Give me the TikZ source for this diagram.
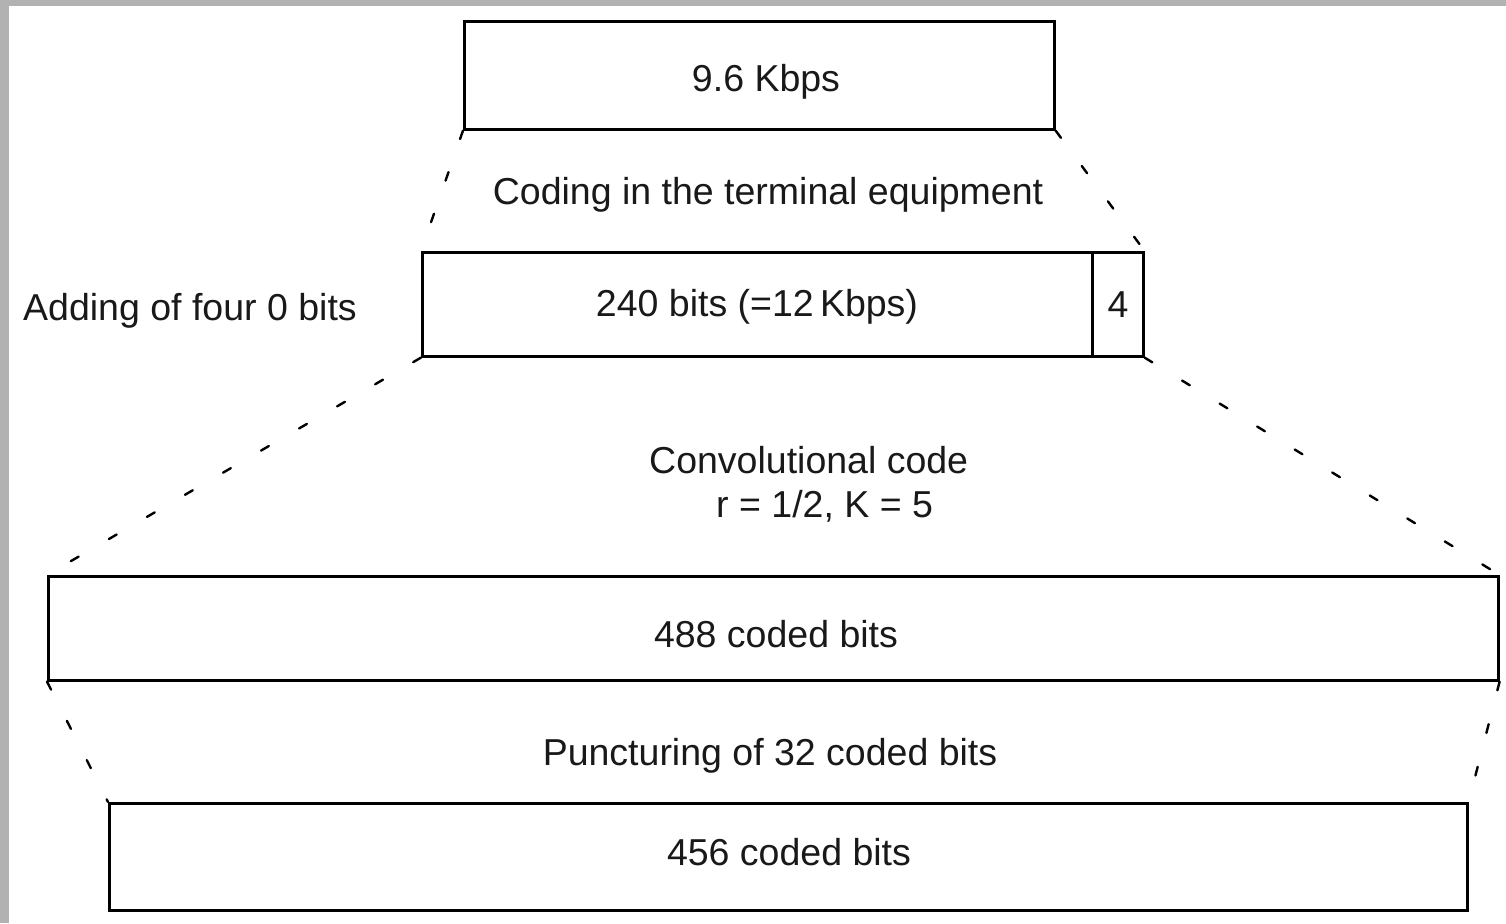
\documentclass[tikz,border=0pt]{standalone}
\usepackage{fontspec}
\setmainfont{Liberation Sans}
\begin{document}
\begin{tikzpicture}[x=1pt,y=-1pt,
  every node/.style={font=\fontsize{37.5}{44}\selectfont, text=black!90},
  bitbox/.style={draw, line width=2.6pt, inner sep=0pt, anchor=north west},
  label/.style={inner sep=0pt},
  dashline/.style={line width=2.4pt, dash pattern=on 9pt off 35pt, line cap=round}]
\useasboundingbox (0,0) rectangle (1506,923);
\fill[gray!60] (0,0) rectangle (1506,923);
\fill[white] (9,6) rectangle (1506,923);

% boxes
\node[bitbox, minimum width=590pt, minimum height=108pt] (b1) at (463,20) {};
\node[bitbox, minimum width=670pt, minimum height=104pt] (b2) at (421,251) {};
\node[bitbox, minimum width=51pt, minimum height=104pt] (b2t) at (1091,251) {};
\node[bitbox, minimum width=1450pt, minimum height=104pt] (b3) at (47,575) {};
\node[bitbox, minimum width=1358pt, minimum height=107pt] (b4) at (108,802) {};

% box texts
\node[label] (t1) at (766,82) {9.6 Kbps};
\node[label] (t2) at (757,307) {240 bits (=12\,Kbps)};
\node[label] (t2t) at (1118,305) {4};
\node[label] (t3) at (776,634) {488 coded bits};
\node[label] (t4) at (789,852) {456 coded bits};

% labels
\node[label] (lcode) at (768,195) {Coding in the terminal equipment};
\node[label, anchor=west] (ladd) at (23,311) {Adding of four 0 bits};
\node[label, anchor=west] (lconv) at (649,460) {Convolutional code};
\node[label, anchor=west] (lrk) at (716,506) {r = 1/2, K = 5};
\node[label] (lpunct) at (770,756) {Puncturing of 32 coded bits};

% dashed flaring lines
\draw[dashline] (b1.south west) -- (b2.north west);
\draw[dashline] (b1.south east) -- (b2t.north east);
\draw[dashline] (b2.south west) -- (b3.north west);
\draw[dashline] (b2t.south east) -- (b3.north east);
\draw[dashline] (b3.south west) -- (b4.north west);
\draw[dashline] (b3.south east) -- (b4.north east);
\end{tikzpicture}
\end{document}
